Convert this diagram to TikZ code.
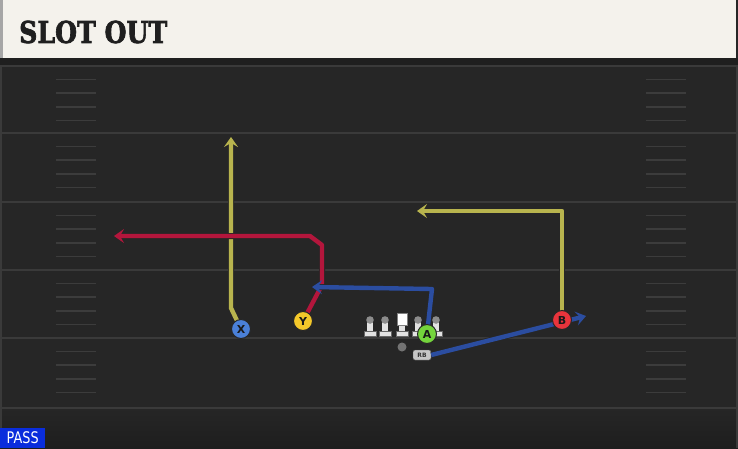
\documentclass[tikz,border=0pt]{standalone}
\usepackage{fontspec}
\setmainfont{DejaVu Sans}
\newfontfamily\titlefont[BoldFeatures={FakeBold=2.5}]{DejaVu Serif}
\usetikzlibrary{arrows.meta}
\definecolor{bg}{HTML}{262626}
\definecolor{bgdark}{HTML}{1E1E1E}
\definecolor{fieldline}{HTML}{3A3A3A}
\definecolor{hashc}{HTML}{3C3C3C}
\definecolor{hdr}{HTML}{F4F2EC}
\definecolor{ylw}{HTML}{B8B44E}
\definecolor{rd}{HTML}{B3163C}
\definecolor{bl}{HTML}{2B4DA0}
\definecolor{cX}{HTML}{4A80D8}
\definecolor{cY}{HTML}{F4C82A}
\definecolor{cA}{HTML}{74D43C}
\definecolor{cB}{HTML}{E8343C}
\definecolor{passbl}{HTML}{0A2DDC}
\definecolor{linebody}{HTML}{E2E2E2}
\definecolor{linehead}{HTML}{8C8C8C}
\tikzset{
  fieldln/.style={draw=fieldline, line width=2pt},
  hashln/.style={draw=hashc, line width=1.6pt},
  route/.style={line width=4.4pt, line join=round, line cap=butt,
    preaction={draw=black!85, line width=6pt, arrows=-},
    -{Stealth[length=10pt,width=14pt,inset=4pt]}},
  player/.style={circle, draw=black!85, line width=1pt, minimum size=19pt, inner sep=0pt,
    font=\bfseries\fontsize{11}{11}\selectfont, text=black!90},
  lineman/.pic={
    \fill[linebody] (-2.8,2) rectangle (2.8,12);
    \fill[linebody, draw=black!60, line width=0.4pt] (-6,11) rectangle (6,16.5);
    \fill[linehead] (0,0) circle (3.8);
  },
  centerman/.pic={
    \fill[linebody] (-2.8,2) rectangle (2.8,12);
    \fill[linebody, draw=black!60, line width=0.4pt] (-6,11) rectangle (6,16.5);
    \fill[white, draw=black!50, line width=0.4pt] (-5.2,-7) rectangle (5.2,5);
  }
}
\begin{document}
\begin{tikzpicture}[x=1pt,y=-1pt]
\useasboundingbox (0,0) rectangle (738,448);
% background
\fill[bg] (0,0) rectangle (738,448);
\shade[top color=bg, bottom color=bgdark] (0,408) rectangle (738,448);
\fill[black!88] (0,58) rectangle (738,65);
% side borders
\fill[fieldline] (0,65) rectangle (2,448);
\fill[fieldline] (736,65) rectangle (738,448);
% header
\fill[hdr] (3,0) rectangle (736,58);
\fill[black!35] (0,0) rectangle (3,58);
\node[anchor=west, inner sep=0pt, text=black!88,
  font=\titlefont\bfseries\fontsize{30}{30}\selectfont] (title) at (19,32)
  {\scalebox{0.84}[1]{SLOT OUT}};
% yard lines
\foreach \L in {66,133,202,270,338,408}{
  \draw[fieldln] (2,\L) -- (736,\L);
}
% hash marks
\foreach \L in {66,133,202,270,338}{
  \foreach \k in {1,...,4}{
    \draw[hashln] (56,{\L+13.6*\k}) -- (96,{\L+13.6*\k});
    \draw[hashln] (646,{\L+13.6*\k}) -- (686,{\L+13.6*\k});
  }
}
% PASS label
\node[fill=passbl, text=white, anchor=south west, inner sep=0pt,
  minimum width=45pt, minimum height=20pt,
  font=\fontsize{16}{16}\selectfont] (pass) at (0,448) {\scalebox{0.8}[1]{PASS}};
% player positions
\coordinate (Xc) at (241,329);
\coordinate (Yc) at (303,321);
\coordinate (Ac) at (427,334);
\coordinate (Bc) at (562,320);
% waypoints
\coordinate (x1) at (231,308);
\coordinate (x2) at (231,137);
\coordinate (y1) at (322,285);
\coordinate (y2) at (322,245);
\coordinate (y3) at (310,236);
\coordinate (y4) at (114,236);
\coordinate (a1) at (432,289);
\coordinate (a2) at (312,287);
\coordinate (b1) at (562,211);
\coordinate (b2) at (417,211);
\coordinate (r1) at (586,316);
% line
\pic at (370,320) {lineman};
\pic at (385,320) {lineman};
\pic at (402,320) {centerman};
\pic at (418,320) {lineman};
\pic at (436,320) {lineman};
\node[circle, fill=black!55, minimum size=9pt, inner sep=0pt] (QB) at (402,347) {};
\node[draw=black!70, fill=black!22, rounded corners=2pt, minimum width=18pt,
  minimum height=10pt, inner sep=0pt, text=black!80,
  font=\bfseries\fontsize{6}{6}\selectfont] (RB) at (422,355) {RB};
% routes
\draw[route, ylw] (Xc) -- (x1) -- (x2);
\draw[route, rd] (Yc) -- (y1) -- (y2) -- (y3) -- (y4);
\draw[route, bl] (Ac) -- (a1) -- (a2);
\draw[route, ylw] (Bc) -- (b1) -- (b2);
\draw[route, bl] (RB.east) -- (r1);
% players
\node[player, fill=cX] (X) at (Xc) {X};
\node[player, fill=cY] (Y) at (Yc) {Y};
\node[player, fill=cA] (A) at (Ac) {A};
\node[player, fill=cB] (B) at (Bc) {B};
\end{tikzpicture}
\end{document}
